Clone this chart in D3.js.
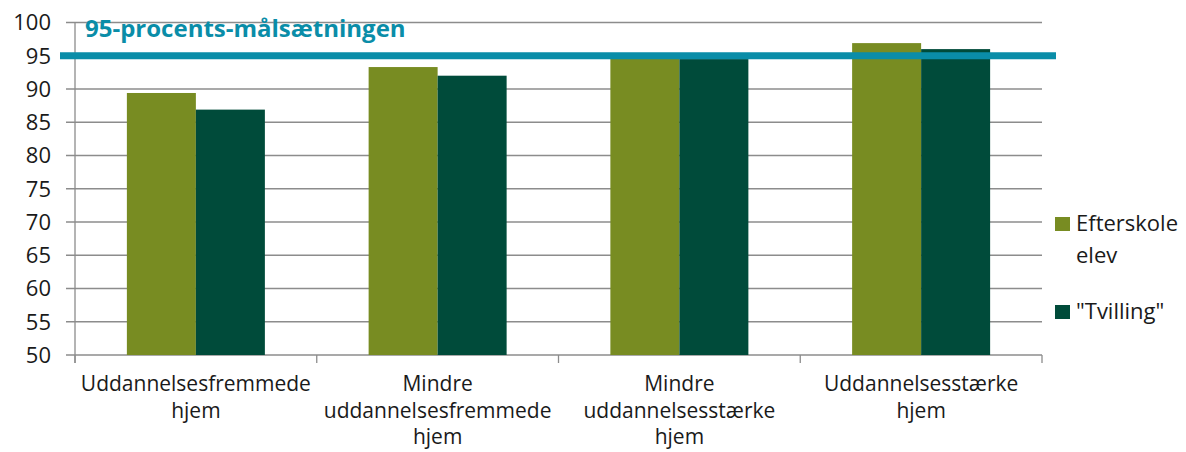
<!DOCTYPE html>
<html><head><meta charset="utf-8">
<script src="https://cdn.jsdelivr.net/npm/d3@7"></script>
<style>body{margin:0;background:#fff}svg{display:block}</style>
</head><body>
<svg id="c" width="1186" height="452"></svg>
<script>
const categories = [["Uddannelsesfremmede","hjem"],["Mindre","uddannelsesfremmede","hjem"],["Mindre","uddannelsesstærke","hjem"],["Uddannelsesstærke","hjem"]];
const seriesNames = [["Efterskole","elev"],["\"Tvilling\""]];
const efterskole = [89.4, 93.3, 95.0, 96.9];
const tvilling = [86.9, 92.0, 94.5, 96.0];
const yTicks = [50,55,60,65,70,75,80,85,90,95,100];
const target = 95;
const targetLabel = "95-procents-målsætningen";
const colors = ["#788c22", "#004b3a"];

const svg = d3.select("#c");
const font = "Open Sans, sans-serif";
const L = 75, R = 1042, T = 22.5, B = 355;
const x = d3.scaleBand().domain(d3.range(categories.length)).range([L, R]).paddingInner(0).paddingOuter(0);
const y = d3.scaleLinear().domain([50, 100]).range([B, T]);
const bw = 69;

// gridlines
svg.append("g").selectAll("line").data(yTicks).join("line")
  .attr("x1", 66).attr("x2", R).attr("y1", d => y(d)).attr("y2", d => y(d))
  .attr("stroke", "#8c8c8c").attr("stroke-width", 1.3);
// y axis line
svg.append("line").attr("x1", L).attr("x2", L).attr("y1", T).attr("y2", B+8).attr("stroke", "#8c8c8c").attr("stroke-width", 1.3);
// x tick marks
svg.append("g").selectAll("line").data(d3.range(categories.length+1)).join("line")
  .attr("x1", i => L + i*x.bandwidth()).attr("x2", i => L + i*x.bandwidth())
  .attr("y1", B).attr("y2", B+8).attr("stroke", "#8c8c8c").attr("stroke-width", 1.3);

// y labels
svg.append("g").selectAll("text").data(yTicks).join("text")
  .attr("x", 51).attr("y", d => y(d)).attr("dy", "0.36em").attr("text-anchor", "end")
  .attr("font-family", font).attr("font-size", 22).attr("fill", "#1a1a1a").text(d => d);

// bars
[efterskole, tvilling].forEach((s, si) => {
  svg.append("g").selectAll("rect").data(s).join("rect")
    .attr("x", (d, i) => x(i) + x.bandwidth()/2 - bw + si*bw)
    .attr("width", bw)
    .attr("y", d => y(d)).attr("height", d => B - y(d))
    .attr("fill", colors[si]);
});

// target line
svg.append("line").attr("x1", 60).attr("x2", 1056).attr("y1", y(target)).attr("y2", y(target))
  .attr("stroke", "#0a8da8").attr("stroke-width", 7);
svg.append("text").attr("x", 85).attr("y", 37).attr("font-family", font).attr("font-weight", "bold")
  .attr("font-size", 24).attr("fill", "#0a8da8").text(targetLabel);

// x labels
categories.forEach((lines, i) => {
  const t = svg.append("text").attr("text-anchor", "middle").attr("font-family", font)
    .attr("font-size", 21).attr("fill", "#1a1a1a");
  lines.forEach((ln, j) => t.append("tspan").attr("x", x(i) + x.bandwidth()/2).attr("y", 391 + j*26.5).text(ln));
});

// legend
const legY = [224, 312];
seriesNames.forEach((lines, i) => {
  svg.append("rect").attr("x", 1055).attr("y", legY[i]-7).attr("width", 15).attr("height", 14).attr("fill", colors[i]);
  const t = svg.append("text").attr("font-family", font).attr("font-size", 22).attr("fill", "#1a1a1a");
  lines.forEach((ln, j) => t.append("tspan").attr("x", 1076).attr("y", legY[i] + 7 + j*32).text(ln));
});
</script>
</body></html>
